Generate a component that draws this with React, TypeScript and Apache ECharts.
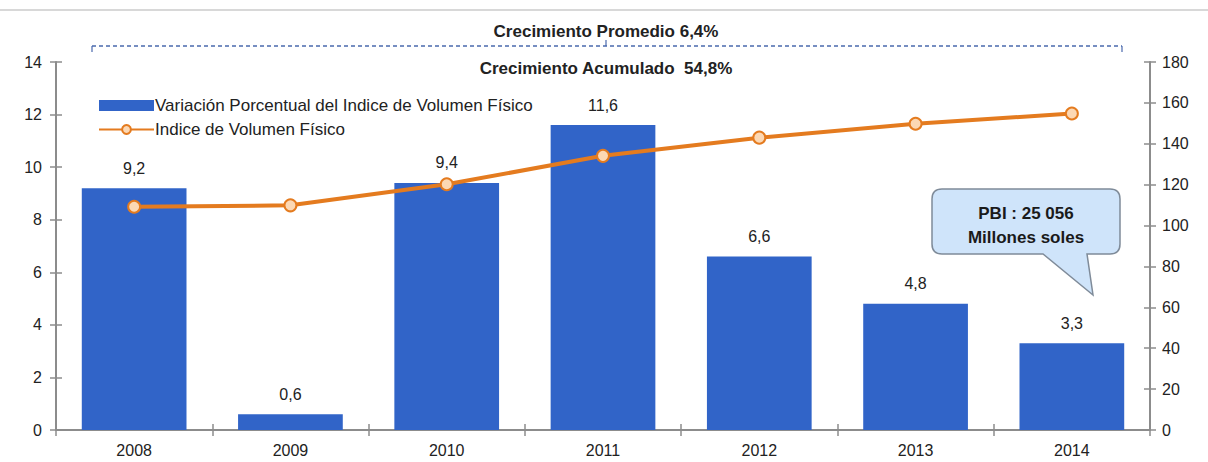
import React, { useEffect, useRef } from "react";
import * as echarts from "echarts";

const categories = ["2008", "2009", "2010", "2011", "2012", "2013", "2014"];
const variacion = [9.2, 0.6, 9.4, 11.6, 6.6, 4.8, 3.3];
const indice = [109.2, 109.9, 120.2, 134.1, 143.0, 149.8, 154.8];
const leftTicks = { min: 0, max: 14, interval: 2 };
const rightTicks = { min: 0, max: 180, interval: 20 };

const FONT = "'Liberation Sans Narrow', 'Arial Narrow', 'Liberation Sans', Arial, sans-serif";

const calloutPath =
  "M 942 189 L 1110 189 Q 1120 189 1120 199 L 1120 244 Q 1120 254 1110 254 L 1087 254 L 1093 295 L 1043 254 L 942 254 Q 932 254 932 244 L 932 199 Q 932 189 942 189 Z";

let registered = false;

export default function App() {
  const ref = useRef<HTMLDivElement>(null);
  useEffect(() => {
    document.body.style.margin = "0";
    if (!registered) {
      echarts.graphic.registerShape("callout", echarts.graphic.extendPath(calloutPath, {}));
      registered = true;
    }
    const chart = echarts.init(ref.current!, null, { renderer: "svg" });
    const axisColor = "#8c8c8c";
    const axisLine = { show: true, lineStyle: { color: axisColor, width: 2 } };
    const tickOut = { show: true, length: 6, lineStyle: { color: axisColor, width: 1.5 } };
    const tickIn = { show: true, inside: true, length: 6, lineStyle: { color: axisColor, width: 1.5 } };
    chart.setOption({
      animation: false,
      backgroundColor: "#ffffff",
      textStyle: { fontFamily: FONT },
      grid: { left: 56, right: 58, top: 62, bottom: 32 },
      legend: {
        left: 93,
        top: 92,
        orient: "vertical",
        itemGap: 7,
        itemWidth: 55,
        itemHeight: 11,
        textStyle: { fontFamily: FONT, fontSize: 17, color: "#222", padding: [0, 0, 0, -4] },
        data: [
          { name: "Variación Porcentual del Indice de Volumen Físico", icon: "rect" },
          { name: "Indice de Volumen Físico" },
        ],
      },
      xAxis: [
        {
          type: "category",
          data: categories,
          axisLine,
          axisTick: tickOut,
          axisLabel: { fontFamily: FONT, fontSize: 16, color: "#222", margin: 12 },
        },
        {
          type: "category",
          data: categories,
          position: "bottom",
          axisLine: { show: false },
          axisTick: tickIn,
          axisLabel: { show: false },
        },
      ],
      yAxis: [
        {
          type: "value",
          ...leftTicks,
          axisLine,
          axisTick: tickOut,
          splitLine: { show: false },
          axisLabel: { fontFamily: FONT, fontSize: 16, color: "#222", margin: 14 },
        },
        {
          type: "value",
          ...rightTicks,
          position: "right",
          axisLine,
          axisTick: tickOut,
          splitLine: { show: false },
          axisLabel: { fontFamily: FONT, fontSize: 16, color: "#222", margin: 12 },
        },
        {
          type: "value",
          ...leftTicks,
          position: "left",
          axisLine: { show: false },
          axisTick: tickIn,
          splitLine: { show: false },
          axisLabel: { show: false },
        },
        {
          type: "value",
          ...rightTicks,
          position: "right",
          axisLine: { show: false },
          axisTick: tickIn,
          splitLine: { show: false },
          axisLabel: { show: false },
        },
      ],
      series: [
        {
          name: "Variación Porcentual del Indice de Volumen Físico",
          type: "bar",
          data: variacion,
          barCategoryGap: "33%",
          itemStyle: { color: "#3164c8" },
          label: {
            show: true,
            position: "top",
            distance: 12,
            fontFamily: FONT,
            fontSize: 16,
            color: "#222",
            formatter: (p: any) => String(p.value).replace(".", ","),
          },
        },
        {
          name: "Indice de Volumen Físico",
          type: "line",
          yAxisIndex: 1,
          data: indice,
          symbol: "circle",
          symbolSize: 12,
          lineStyle: { color: "#e47b1f", width: 4 },
          itemStyle: { color: "#fcd8b4", borderColor: "#e47b1f", borderWidth: 2 },
        },
      ],
      graphic: [
        { type: "line", shape: { x1: 0, y1: 10, x2: 1208, y2: 10 }, style: { stroke: "#d8d8d8", lineWidth: 2 } },
        {
          type: "text",
          x: 606,
          y: 31,
          style: { text: "Crecimiento Promedio 6,4%", font: `bold 17px ${FONT}`, fill: "#222", align: "center", verticalAlign: "middle" },
        },
        {
          type: "line",
          shape: { x1: 92, y1: 46, x2: 1122, y2: 46 },
          style: { stroke: "#4a69ad", lineWidth: 1.5, lineDash: [4, 3] },
        },
        { type: "line", shape: { x1: 92, y1: 46, x2: 92, y2: 52 }, style: { stroke: "#4a69ad", lineWidth: 1.2 } },
        { type: "line", shape: { x1: 1122, y1: 46, x2: 1122, y2: 52 }, style: { stroke: "#4a69ad", lineWidth: 1.2 } },
        { type: "line", shape: { x1: 606, y1: 40, x2: 606, y2: 46 }, style: { stroke: "#4a69ad", lineWidth: 1.2 } },
        {
          type: "text",
          x: 606,
          y: 68,
          style: { text: "Crecimiento Acumulado  54,8%", font: `bold 17px ${FONT}`, fill: "#222", align: "center", verticalAlign: "middle" },
        },
        {
          type: "callout",
          x: 0,
          y: 0,
          style: { fill: "#cfe4fa", stroke: "#7f8b99", lineWidth: 1.5 },
        },
        {
          type: "text",
          x: 1026,
          y: 213,
          style: { text: "PBI : 25 056", font: `bold 17px ${FONT}`, fill: "#1a1a1a", align: "center", verticalAlign: "middle" },
        },
        {
          type: "text",
          x: 1026,
          y: 237,
          style: { text: "Millones soles", font: `bold 17px ${FONT}`, fill: "#1a1a1a", align: "center", verticalAlign: "middle" },
        },
      ],
    });
    return () => chart.dispose();
  }, []);
  return <div ref={ref} style={{ width: 1208, height: 462 }} />;
}
